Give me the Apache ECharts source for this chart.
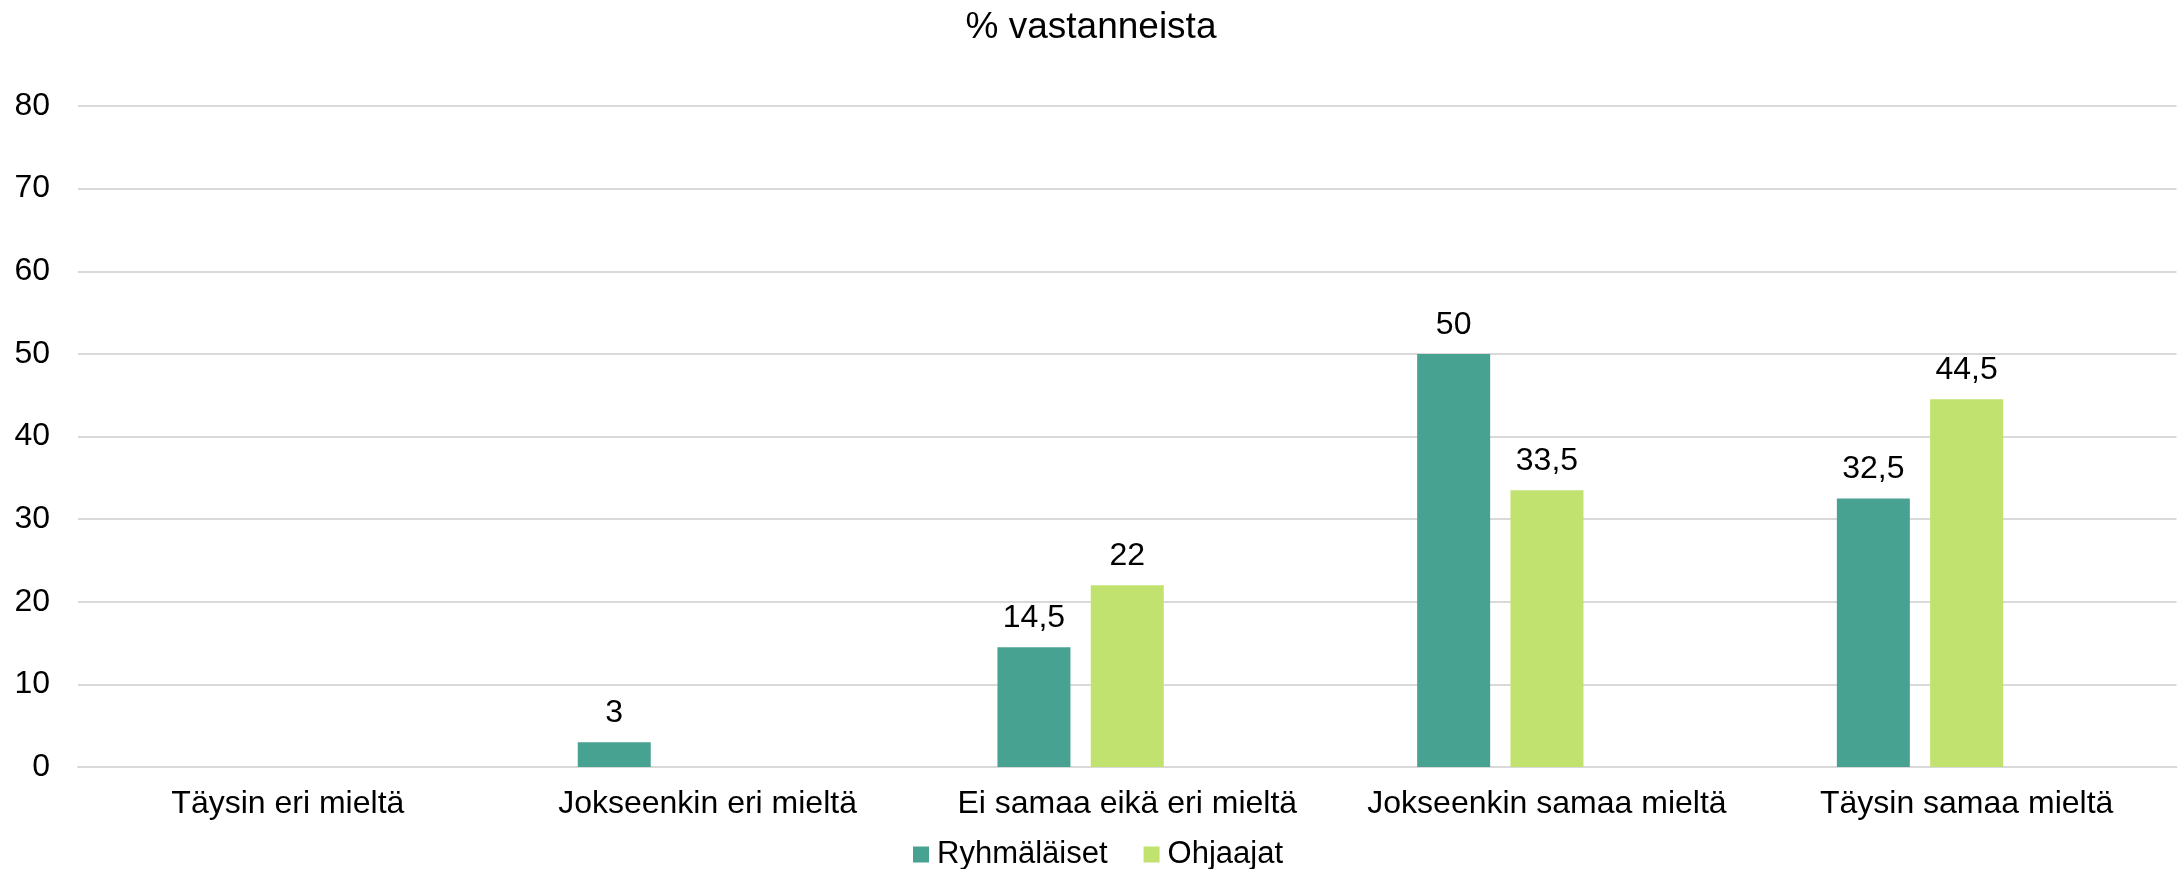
<!DOCTYPE html>
<html>
<head>
<meta charset="utf-8">
<script src="https://cdn.jsdelivr.net/npm/echarts@6/dist/echarts.min.js"></script>
<style>
  html, body { margin: 0; padding: 0; background: #fff; }
  #chart { width: 2182px; height: 869px; }
</style>
</head>
<body>
<div id="chart"></div>
<script>
const titleText = '% vastanneista';
const categories = ['Täysin eri mieltä', 'Jokseenkin eri mieltä', 'Ei samaa eikä eri mieltä', 'Jokseenkin samaa mieltä', 'Täysin samaa mieltä'];
const seriesNames = ['Ryhmäläiset', 'Ohjaajat'];
const ryhmalaiset = [null, 3, 14.5, 50, 32.5];
const ohjaajat = [null, null, 22, 33.5, 44.5];
const emptySeries = [null, null, null, null, null];
const yTicks = { min: 0, max: 80, interval: 10 };
const colors = ['#48A291', '#C1E26E'];

const font = '"Liberation Sans", Arial, sans-serif';
const fmt = p => (p.value == null ? '' : String(p.value).replace('.', ','));

const labelOpt = {
  show: true,
  position: 'top',
  distance: 13,
  color: '#000',
  fontSize: 32,
  fontFamily: font,
  formatter: fmt
};

const chart = echarts.init(document.getElementById('chart'), null, { renderer: 'canvas' });
chart.setOption({
  animation: false,
  backgroundColor: '#fff',
  title: {
    text: titleText,
    left: 'center',
    top: 4,
    textStyle: { fontSize: 37, fontWeight: 'normal', color: '#000', fontFamily: font }
  },
  legend: {
    data: seriesNames,
    top: 839,
    left: 913,
    padding: 0,
    itemWidth: 16,
    itemHeight: 16,
    itemGap: 36,
    icon: 'rect',
    textStyle: { fontSize: 31, color: '#000', fontFamily: font, padding: [0, 0, 0, 3] }
  },
  grid: { left: 78, right: 5.5, top: 106, bottom: 102 },
  xAxis: {
    type: 'category',
    data: categories,
    axisLine: { show: true, lineStyle: { color: '#d9d9d9', width: 2 } },
    axisTick: { show: false },
    axisLabel: { fontSize: 32, color: '#000', fontFamily: font, margin: 21, interval: 0 }
  },
  yAxis: {
    type: 'value',
    min: yTicks.min,
    max: yTicks.max,
    interval: yTicks.interval,
    axisLine: { show: false },
    axisTick: { show: false },
    axisLabel: { fontSize: 32, color: '#000', fontFamily: font, margin: 28 },
    splitLine: { lineStyle: { color: '#d9d9d9', width: 2 } }
  },
  series: [
    {
      name: seriesNames[0], type: 'bar', data: ryhmalaiset,
      itemStyle: { color: colors[0] },
      barGap: '27.8%', barCategoryGap: '38.15%',
      label: labelOpt
    },
    {
      name: seriesNames[1], type: 'bar', data: ohjaajat,
      itemStyle: { color: colors[1] },
      barGap: '27.8%', barCategoryGap: '38.15%',
      label: labelOpt
    },
    {
      name: 'tyhjä', type: 'bar', data: emptySeries,
      barGap: '27.8%', barCategoryGap: '38.15%',
      itemStyle: { color: 'transparent' },
      label: { show: false }
    }
  ]
});
</script>
</body>
</html>
